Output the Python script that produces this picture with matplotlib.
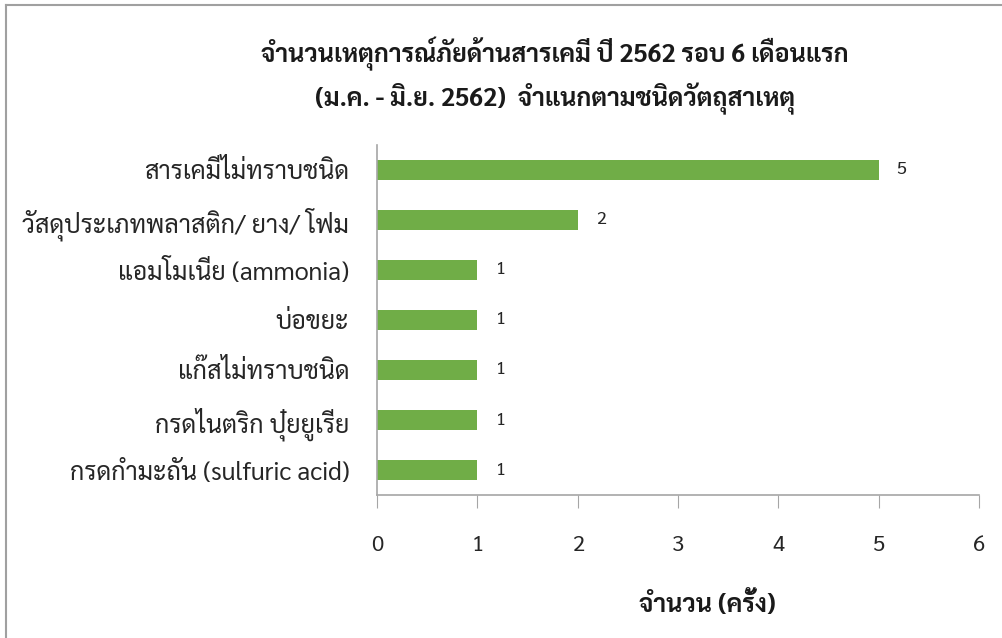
import matplotlib
matplotlib.use('Agg')
import matplotlib.pyplot as plt
from matplotlib.lines import Line2D

plt.rcParams['font.family'] = ['Sarabun', 'Noto Sans Thai Looped', 'DejaVu Sans']

# categories listed top to bottom
categories = ['สารเคมีไม่ทราบชนิด',
              'วัสดุประเภทพลาสติก/ ยาง/ โฟม',
              'แอมโมเนีย (ammonia)',
              'บ่อขยะ',
              'แก๊สไม่ทราบชนิด',
              'กรดไนตริก ปุ๋ยยูเรีย',
              'กรดกำมะถัน (sulfuric acid)']
counts = [5, 2, 1, 1, 1, 1, 1]
x_ticks = [0, 1, 2, 3, 4, 5, 6]

fig = plt.figure(figsize=(10.03, 6.38), dpi=100)
ax = fig.add_axes([0.376, 0.224, 0.6, 0.549])

ypos = list(range(len(categories)))[::-1]
ax.barh(ypos, counts, height=0.4, color='#70AD47')
for y, v in zip(ypos, counts):
    ax.text(v + 0.18, y, str(v), va='center', ha='left', fontsize=13, color='#262626')

ax.set_xlim(0, 6)
ax.set_ylim(-0.5, len(categories) - 0.5)
ax.set_yticks(ypos)
ax.set_yticklabels(categories, fontsize=18, color='#262626')
ax.set_xticks(x_ticks)
ax.set_xticklabels([str(t) for t in x_ticks], fontsize=16, color='#262626')
ax.tick_params(axis='y', length=0, pad=20)
ax.tick_params(axis='x', length=9, color='#A6A6A6', direction='out', pad=20)
for s in ['top', 'right']:
    ax.spines[s].set_visible(False)
ax.spines['left'].set_color('#A6A6A6')
ax.spines['bottom'].set_color('#A6A6A6')
ax.spines['left'].set_linewidth(1.2)
ax.spines['bottom'].set_linewidth(1.2)

fig.text(0.705, 0.052, 'จำนวน (ครั้ง)', ha='center', va='center',
         fontsize=18, fontweight='bold', color='#1a1a1a')

fig.text(0.553, 0.915, 'จำนวนเหตุการณ์ภัยด้านสารเคมี ปี 2562 รอบ 6 เดือนแรก',
         ha='center', va='center', fontsize=18, fontweight='bold', color='#1a1a1a')
fig.text(0.553, 0.845, '(ม.ค. - มิ.ย. 2562)  จำแนกตามชนิดวัตถุสาเหตุ',
         ha='center', va='center', fontsize=18, fontweight='bold', color='#1a1a1a')

# chart frame (left and top edges visible)
fig.add_artist(Line2D([0.006, 0.006], [0.992, 0.0], color='#A0A0A0', lw=1.5))
fig.add_artist(Line2D([0.006, 1.0], [0.992, 0.992], color='#A0A0A0', lw=1.5))

fig.savefig('out.png', dpi=100, facecolor='white')
